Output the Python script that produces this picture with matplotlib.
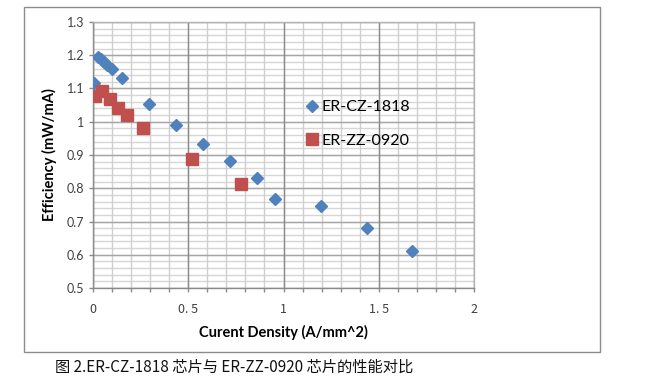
import matplotlib; matplotlib.use('agg'); import matplotlib.pyplot as plt
from matplotlib.patches import Rectangle
from matplotlib.ticker import MultipleLocator, FixedLocator

# ER-CZ-1818 (blue diamonds)
cz_x = [0.007, 0.028, 0.040, 0.058, 0.075, 0.098, 0.150, 0.294, 0.434, 0.576, 0.719, 0.861, 0.957, 1.197, 1.437, 1.677]
cz_y = [1.118, 1.196, 1.189, 1.180, 1.172, 1.160, 1.131, 1.053, 0.990, 0.934, 0.881, 0.832, 0.768, 0.748, 0.680, 0.610]

# ER-ZZ-0920 (red squares)
zz_x = [0.010, 0.047, 0.089, 0.133, 0.177, 0.261, 0.520, 0.778]
zz_y = [1.078, 1.093, 1.068, 1.042, 1.020, 0.981, 0.888, 0.814]

x_ticks = [0, 0.5, 1, 1.5, 2]
x_tick_labels = ["0", "0. 5", "1", "1. 5", "2"]
y_ticks = [0.5, 0.6, 0.7, 0.8, 0.9, 1.0, 1.1, 1.2, 1.3]
y_tick_labels = ["0.5", "0.6", "0.7", "0.8", "0.9", "1", "1.1", "1.2", "1.3"]

fig = plt.figure(figsize=(6.5, 3.87), dpi=100)
fig.patches.append(Rectangle((24 / 650, 1 - 352 / 387), 576 / 650, 345 / 387,
                             transform=fig.transFigure, fill=False,
                             edgecolor="#8c8c8c", linewidth=1.0))

ax = fig.add_axes([93 / 650, 1 - 288 / 387, 381 / 650, 266 / 387])

ax.set_xlim(0, 2)
ax.set_ylim(0.5, 1.3)

# grid: light minor lines, darker majors
for v in [i / 50 for i in range(25, 66)]:
    ax.axhline(v, color="#d6d6d6", linewidth=1.0, zorder=0)
for v in [i / 10 for i in range(0, 21)]:
    ax.axvline(v, color="#cfcfcf", linewidth=1.0, zorder=0)
for v in y_ticks:
    ax.axhline(v, color="#a6a6a6", linewidth=1.0, zorder=0)
for v in x_ticks:
    ax.axvline(v, color="#8a8a8a", linewidth=1.0, zorder=0)

ax.plot(cz_x, cz_y, "D", color="#4F81BD", markersize=6, linestyle="none", label="ER-CZ-1818", zorder=3)
ax.plot(zz_x, zz_y, "s", color="#C0504D", markersize=8, linestyle="none", label="ER-ZZ-0920", zorder=3)

for s in ax.spines.values():
    s.set_color("#b4b4b4")
    s.set_linewidth(1.0)
ax.spines["left"].set_color("#8a8a8a")
ax.spines["bottom"].set_color("#8a8a8a")

ax.yaxis.set_major_locator(FixedLocator(y_ticks))
ax.set_yticklabels(y_tick_labels, fontsize=9, color="#404040", family="Lato")
ax.xaxis.set_major_locator(FixedLocator(x_ticks))
ax.set_xticklabels(x_tick_labels, fontsize=9, color="#404040", family="Noto Sans CJK SC")
ax.xaxis.set_minor_locator(MultipleLocator(0.1))
ax.tick_params(axis="both", which="both", direction="out", length=3, color="#8a8a8a", width=1.0)
ax.tick_params(axis="x", which="major", pad=8)

ax.set_xlabel("Curent Density (A/mm^2)", fontsize=10.5, fontweight="bold", family="Lato", labelpad=6)
ax.set_ylabel("Efficiency (mW/mA)", fontsize=10.5, fontweight="bold", family="Lato", labelpad=7)

leg = ax.legend(loc="upper left", bbox_to_anchor=(0.52, 0.76), frameon=False,
                handlelength=0.8, handletextpad=0.2, labelspacing=1.2,
                prop={"family": "Lato", "size": 11.5})

fig.text(55 / 650, 1 - 367 / 387, "图 2.ER-CZ-1818 芯片与 ER-ZZ-0920 芯片的性能对比",
         fontsize=11, family=["Noto Sans CJK SC", "DejaVu Sans"], va="center", ha="left", color="#111111")

fig.savefig("out.png", dpi=100)
plt.close()
